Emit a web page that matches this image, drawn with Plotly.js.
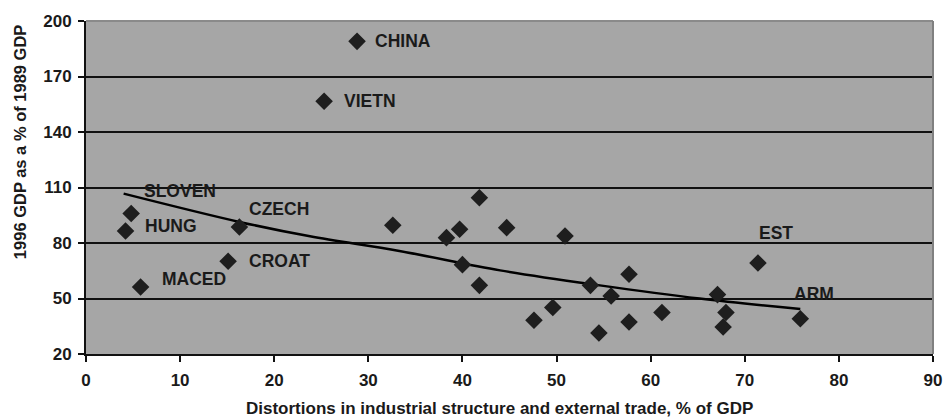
<!DOCTYPE html>
<html>
<head>
<meta charset="utf-8">
<script src="https://cdn.plot.ly/plotly-3.0.1.min.js"></script>
<style>html,body{margin:0;padding:0;background:#fff;}#chart{width:944px;height:418px;}</style>
</head>
<body>
<div id="chart"></div>
<script>
// Distortions (% of GDP) vs 1996 GDP as % of 1989 GDP
var pointX = [28.8, 25.3, 4.8, 4.2, 5.8, 16.3, 15.1, 32.6, 41.8, 38.3, 39.7, 44.7, 50.9, 40.0, 41.8, 53.6, 55.8, 57.7, 57.7, 47.6, 49.6, 54.5, 61.2, 71.4, 67.1, 68.0, 67.7, 75.9];
var pointY = [189, 156.6, 95.9, 86.5, 56.2, 88.6, 70.1, 89.6, 104.5, 82.9, 87.4, 88.3, 83.8, 68.3, 57.1, 57.1, 51.4, 63.1, 37.3, 38.2, 45.1, 31.4, 42.4, 69.2, 52.1, 42.4, 34.6, 39.1];
var pointNames = ["CHINA", "VIETN", "SLOVEN", "HUNG", "MACED", "CZECH", "CROAT", "", "", "", "", "", "", "", "", "", "", "", "", "", "", "", "", "EST", "", "", "", "ARM"];
// trend line
var trendX = [4.0, 16.3, 23.8, 33.3, 44.0, 54.6, 65.2, 75.9];
var trendY = [106.7, 91.4, 83.6, 75.7, 65.2, 57.1, 50.0, 44.3];
var xTicks = [0, 10, 20, 30, 40, 50, 60, 70, 80, 90];
var yTicks = [20, 50, 80, 110, 140, 170, 200];

// label pixel offsets (style)
var labelShift = {
  "CHINA": [16, 0], "VIETN": [18, 0], "SLOVEN": [11, -23], "HUNG": [17, -5],
  "MACED": [19, -8], "CZECH": [8, -18], "CROAT": [19, 0], "EST": [-1, -30], "ARM": [-8, -25]
};

var FONT = '"Liberation Sans", Arial, sans-serif';
var DARK = '#1a1a1a';

var annotations = [];
for (var i = 0; i < pointNames.length; i++) {
  if (!pointNames[i]) continue;
  var s = labelShift[pointNames[i]];
  annotations.push({
    x: pointX[i], y: pointY[i], xref: 'x', yref: 'y', text: '<b>' + pointNames[i] + '</b>',
    showarrow: false, xanchor: 'left', yanchor: 'middle',
    xshift: s[0], yshift: -s[1],
    font: {family: FONT, size: 17.5, color: DARK}
  });
}
annotations.push({
  x: 0.4885, y: -0.163, xref: 'paper', yref: 'paper', showarrow: false,
  text: '<b>Distortions in industrial structure and external trade, % of GDP</b>',
  xanchor: 'center', yanchor: 'middle',
  font: {family: FONT, size: 17, color: DARK}
});
annotations.push({
  x: -0.078, y: 0.639, xref: 'paper', yref: 'paper', showarrow: false,
  text: '<b>1996 GDP as a % of 1989 GDP</b>', textangle: -90,
  xanchor: 'center', yanchor: 'middle',
  font: {family: FONT, size: 16.5, color: DARK}
});

var traces = [
  {
    x: trendX, y: trendY, type: 'scatter', mode: 'lines',
    line: {color: '#000', width: 2.5, shape: 'spline', smoothing: 1}, hoverinfo: 'skip'
  },
  {
    x: pointX, y: pointY, type: 'scatter', mode: 'markers',
    marker: {symbol: 'diamond', size: 13.5, color: '#1e1e1e', line: {width: 0}}
  }
];

var tickFont = {family: FONT, size: 17, color: DARK, weight: 700};

var layout = {
  width: 944, height: 418,
  margin: {l: 86, r: 10.5, t: 20.7, b: 64.3, pad: 0},
  paper_bgcolor: '#ffffff', plot_bgcolor: '#a6a6a6',
  showlegend: false,
  xaxis: {
    range: [0, 90], tickvals: xTicks, ticktext: xTicks.map(function (v) { return '<b>' + v + '</b>'; }),
    showgrid: false, zeroline: false,
    showline: true, linecolor: '#111', linewidth: 2, mirror: false,
    ticks: 'outside', ticklen: 6, tickwidth: 2, tickcolor: '#111',
    tickfont: tickFont,
    ticklabelstandoff: 4
  },
  yaxis: {
    range: [20, 200], tickvals: yTicks, ticktext: yTicks.map(function (v) { return '<b>' + v + '</b>'; }),
    showgrid: true, gridcolor: '#111', gridwidth: 2, zeroline: false,
    showline: true, linecolor: '#111', linewidth: 2,
    ticks: 'outside', ticklen: 6, tickwidth: 2, tickcolor: '#111',
    tickfont: tickFont,
    ticklabelstandoff: 3
  },
  shapes: [
    {type: 'line', xref: 'paper', yref: 'paper', x0: 0, x1: 1, y0: 1, y1: 1, line: {color: '#8a8a8a', width: 2}},
    {type: 'line', xref: 'paper', yref: 'paper', x0: 1, x1: 1, y0: 0, y1: 1, line: {color: '#808080', width: 2}}
  ],
  annotations: annotations
};

Plotly.newPlot('chart', traces, layout, {displayModeBar: false, staticPlot: true});
</script>
</body>
</html>
